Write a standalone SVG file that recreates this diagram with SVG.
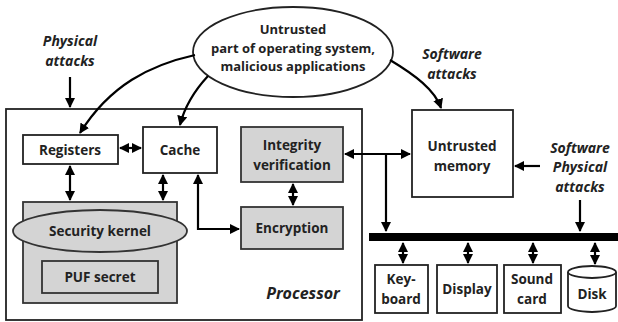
<svg xmlns="http://www.w3.org/2000/svg" width="618" height="322" viewBox="0 0 618 322">
<style>
.box{fill:#fff;stroke:#222;stroke-width:1.8}
.gray{fill:#d4d4d4;stroke:#333;stroke-width:1.8}
.t{font-family:"Open Sans","Liberation Sans",sans-serif;font-weight:bold;font-size:13.5px;fill:#222;text-anchor:middle}
.it{font-family:"Open Sans","Liberation Sans",sans-serif;font-weight:bold;font-style:italic;font-size:14px;fill:#222;text-anchor:middle}
.c{fill:none;stroke:#000;stroke-width:2.2}
</style>
<defs>
<marker id="a" viewBox="0 0 10 10" refX="9" refY="5" markerWidth="4.6" markerHeight="4.6" orient="auto-start-reverse" markerUnits="strokeWidth">
<path d="M0,0 L10,5 L0,10 z" fill="#000"/>
</marker>
</defs>
<g id="processor">
<rect class="box" x="6" y="109" width="356" height="211"/>
<text class="it" x="303" y="299" style="font-size:16px">Processor</text>
</g>
<g id="os">
<ellipse cx="293" cy="52" rx="100" ry="45" fill="#fff" stroke="#222" stroke-width="1.8"/>
<text class="t" x="293" y="34" style="font-size:13px">Untrusted</text>
<text class="t" x="293" y="53" style="font-size:13px">part of operating system,</text>
<text class="t" x="293" y="71" style="font-size:13px">malicious applications</text>
</g>
<g id="physical">
<text class="it" x="70" y="46">Physical</text>
<text class="it" x="70" y="66">attacks</text>
</g>
<g id="software">
<text class="it" x="452" y="59">Software</text>
<text class="it" x="452" y="79">attacks</text>
</g>
<g id="swphys">
<text class="it" x="580" y="153">Software</text>
<text class="it" x="580" y="172">Physical</text>
<text class="it" x="580" y="192">attacks</text>
</g>
<g id="registers">
<rect class="box" x="23" y="135" width="95" height="29"/>
<text class="t" x="70" y="155">Registers</text>
</g>
<g id="cache">
<rect class="box" x="143" y="127" width="74" height="46"/>
<text class="t" x="180" y="155">Cache</text>
</g>
<g id="integrity">
<rect class="gray" x="241" y="127" width="102" height="55"/>
<text class="t" x="292" y="150">Integrity</text>
<text class="t" x="292" y="170">verification</text>
</g>
<g id="encryption">
<rect class="gray" x="241" y="207" width="102" height="42"/>
<text class="t" x="292" y="233">Encryption</text>
</g>
<g id="kernel">
<rect class="gray" x="23" y="202" width="154" height="101"/>
<ellipse cx="100" cy="231" rx="87" ry="21" fill="#d4d4d4" stroke="#333" stroke-width="1.8"/>
<text class="t" x="100" y="236">Security kernel</text>
<rect class="gray" x="42" y="261" width="116" height="32"/>
<text class="t" x="100" y="282">PUF secret</text>
</g>
<g id="memory">
<rect class="box" x="412" y="110" width="101" height="87"/>
<text class="t" x="462" y="151">Untrusted</text>
<text class="t" x="462" y="171">memory</text>
</g>
<g id="bus">
<rect x="369" y="233" width="249" height="8" fill="#000"/>
</g>
<g id="keyboard">
<rect class="box" x="375" y="265" width="53" height="48"/>
<text class="t" x="401" y="284">Key-</text>
<text class="t" x="401" y="304">board</text>
</g>
<g id="display">
<rect class="box" x="437" y="265" width="60" height="48"/>
<text class="t" x="467" y="294">Display</text>
</g>
<g id="sound">
<rect class="box" x="504" y="265" width="57" height="48"/>
<text class="t" x="532" y="284">Sound</text>
<text class="t" x="532" y="304">card</text>
</g>
<g id="disk">
<path d="M568,272 L568,306 A24,6 0 0 0 616,306 L616,272" fill="#fff" stroke="#222" stroke-width="1.8"/>
<ellipse cx="592" cy="272" rx="24" ry="6" fill="#fff" stroke="#222" stroke-width="1.8"/>
<text class="t" x="592" y="299">Disk</text>
</g>
<g id="connectors">
<path class="c" d="M70,77 L70,107" marker-end="url(#a)"/>
<path class="c" d="M195,55 C150,65 110,85 80,133" marker-end="url(#a)"/>
<path class="c" d="M208,76 C195,90 185,105 180,125" marker-end="url(#a)"/>
<path class="c" d="M390,60 C415,75 435,90 441,108" marker-end="url(#a)"/>
<path class="c" d="M120,148 L141,148" marker-start="url(#a)" marker-end="url(#a)"/>
<path class="c" d="M70,166 L70,200" marker-start="url(#a)" marker-end="url(#a)"/>
<path class="c" d="M163,175 L163,200" marker-start="url(#a)" marker-end="url(#a)"/>
<path class="c" d="M198,175 L198,229 L239,229" marker-start="url(#a)" marker-end="url(#a)"/>
<path class="c" d="M293,184 L293,205" marker-start="url(#a)" marker-end="url(#a)"/>
<path class="c" d="M345,154 L410,154" marker-start="url(#a)" marker-end="url(#a)"/>
<path class="c" d="M386,154 L386,231" marker-end="url(#a)"/>
<path class="c" d="M540,166 L515,166" marker-end="url(#a)"/>
<path class="c" d="M580,200 L580,231" marker-end="url(#a)"/>
<path class="c" d="M403,243 L403,263" marker-start="url(#a)" marker-end="url(#a)"/>
<path class="c" d="M468,243 L468,263" marker-start="url(#a)" marker-end="url(#a)"/>
<path class="c" d="M533,243 L533,263" marker-start="url(#a)" marker-end="url(#a)"/>
<path class="c" d="M595,243 L595,264" marker-start="url(#a)" marker-end="url(#a)"/>
</g>
</svg>
